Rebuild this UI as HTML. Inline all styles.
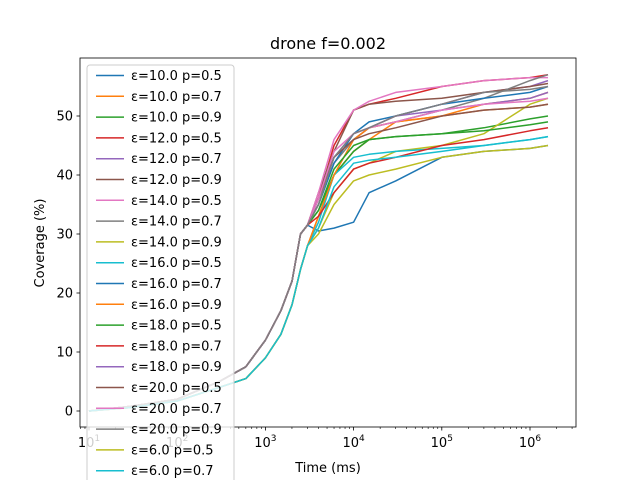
<!DOCTYPE html>
<html><head><meta charset="utf-8"><style>
html,body{margin:0;padding:0;background:#fff;}
svg text{font-family:"DejaVu Sans","Liberation Sans",sans-serif;fill:#000;}
</style></head><body>
<svg id="chart" width="640" height="480" viewBox="0 0 640 480" xmlns="http://www.w3.org/2000/svg">
<rect x="0" y="0" width="640" height="480" fill="#fff"/>
<text x="328" y="49" font-size="16" text-anchor="middle">drone f=0.002</text>
<g id="plot"></g>
<g id="axes"></g>
<g id="legend"></g>
<text x="328" y="472" font-size="13" text-anchor="middle">Time (ms)</text>
<text x="0" y="0" font-size="13" text-anchor="middle" transform="translate(44,243) rotate(-90)">Coverage (%)</text>
</svg>
<script>
const times = [10,30,100,300,600,1000,1500,2000,2500,3000,4000,6000,10000,15000,30000,100000,300000,1000000,1600000];
const fastEarly = [0,0.8,2,5,7.5,12,17,22,30,31.5];
const slowEarly = [0,0.6,1.7,4,5.5,9,13,18,24,28];
const seriesNames = ["ε=10.0 p=0.5","ε=10.0 p=0.7","ε=10.0 p=0.9","ε=12.0 p=0.5","ε=12.0 p=0.7","ε=12.0 p=0.9","ε=14.0 p=0.5","ε=14.0 p=0.7","ε=14.0 p=0.9","ε=16.0 p=0.5","ε=16.0 p=0.7","ε=16.0 p=0.9","ε=18.0 p=0.5","ε=18.0 p=0.7","ε=18.0 p=0.9","ε=20.0 p=0.5","ε=20.0 p=0.7","ε=20.0 p=0.9","ε=6.0 p=0.5","ε=6.0 p=0.7"];
const seriesFast = [1,0,1,1,1,1,1,1,0,0,1,0,1,1,1,1,1,1,0,0];
const seriesLate = [
[30.5,31,32,37,39,43,44,44.5,45],
[33,40,44,46,49,50,51,51.5,52],
[34,40,44,46,46.5,47,48,49.5,50],
[36,45,51,52,53,55,56,56.5,57],
[36,43,46,48,50,52,54,55,56],
[37,44,51,52,52.5,53,54,55,55.5],
[37,46,51,52.5,54,55,56,56.5,56.5],
[35,42,46,48,49,51,53,56,57],
[31,37,41,42,44,45,47,52,53],
[32,40,43,43.5,44,44.5,45,46,46.5],
[35,42,47,49,50,52,53,54,55],
[33,40,46,48,49,50,52,53,54],
[34,41,45,46,46.5,47,47.5,48.5,49],
[33,37,41,42,43,45,46,47.5,48],
[36,43,47,48,50,51,52,53,54],
[36,43,46,47,48,50,51,51.5,52],
[36,44,47,48,49,51,52,52.5,53],
[35,43,47,48,50,52,54,54.5,55],
[30,35,39,40,41,43,44,44.5,45],
[31,38,42,42.5,43,44,45,46,46.5]
];
const yTicks = [0,10,20,30,40,50];
const xTickExps = [1,2,3,4,5,6];
const colors = ["#1f77b4","#ff7f0e","#2ca02c","#d62728","#9467bd","#8c564b","#e377c2","#7f7f7f","#bcbd22","#17becf"];

const NS="http://www.w3.org/2000/svg";
const L=80,R=576,T=58,B=427;
function xs(t){return 89+(Math.log10(t)-1)*88.2;}
function ys(v){return 411-v*5.9;}
function mk(tag,attrs,parent){const e=document.createElementNS(NS,tag);for(const k in attrs)e.setAttribute(k,attrs[k]);parent.appendChild(e);return e;}

const plot=document.getElementById('plot');
seriesNames.forEach((n,i)=>{
  const vals=(seriesFast[i]?fastEarly:slowEarly).concat(seriesLate[i]);
  const d=vals.map((v,j)=>(j?'L':'M')+xs(times[j]).toFixed(1)+','+ys(v).toFixed(1)).join(' ');
  const p=mk('path',{d:d,fill:'none',stroke:colors[i%10],'stroke-width':1.5,'stroke-linejoin':'round'},plot);
  
  
});

const axes=document.getElementById('axes');
const frame=mk('rect',{x:L,y:T,width:R-L,height:B-T,fill:'none',stroke:'#000','stroke-width':0.8},axes);


yTicks.forEach(v=>{
  const y=ys(v);
  mk('line',{x1:L,x2:L-3.5,y1:y,y2:y,stroke:'#000','stroke-width':0.8},axes);
  const t=mk('text',{x:L-7,y:y+4.5,'font-size':13,'text-anchor':'end'},axes);
  t.textContent=String(v);
  
  
});
for(let e=0;e<=6;e++){for(let m=2;m<=9;m++){const x=xs(m*Math.pow(10,e));if(x>L&&x<R)mk('line',{x1:x,x2:x,y1:B,y2:B+2,stroke:'#000','stroke-width':0.6},axes);}}
xTickExps.forEach(e=>{
  const x=xs(Math.pow(10,e));
  mk('line',{x1:x,x2:x,y1:B,y2:B+3.5,stroke:'#000','stroke-width':0.8},axes);
  const t=mk('text',{x:x,y:B+20,'font-size':13,'text-anchor':'middle'},axes);
  t.textContent='10';
  const s=mk('tspan',{dy:-6,'font-size':9},t);
  s.textContent=String(e);
  
  
});

const lg=document.getElementById('legend');
const box=mk('rect',{x:87,y:65,width:147,height:440,rx:3,fill:'#fff','fill-opacity':0.8,stroke:'#ccc','stroke-width':1},lg);


seriesNames.forEach((n,i)=>{
  const y=75.5+i*20.8;
  const g=mk('g',{},lg);
  
  
  mk('line',{x1:96,x2:124,y1:y,y2:y,stroke:colors[i%10],'stroke-width':1.5},g);
  const t=mk('text',{x:131,y:y+4.5,'font-size':13},g);
  t.textContent=n;
});
</script>
</body></html>
